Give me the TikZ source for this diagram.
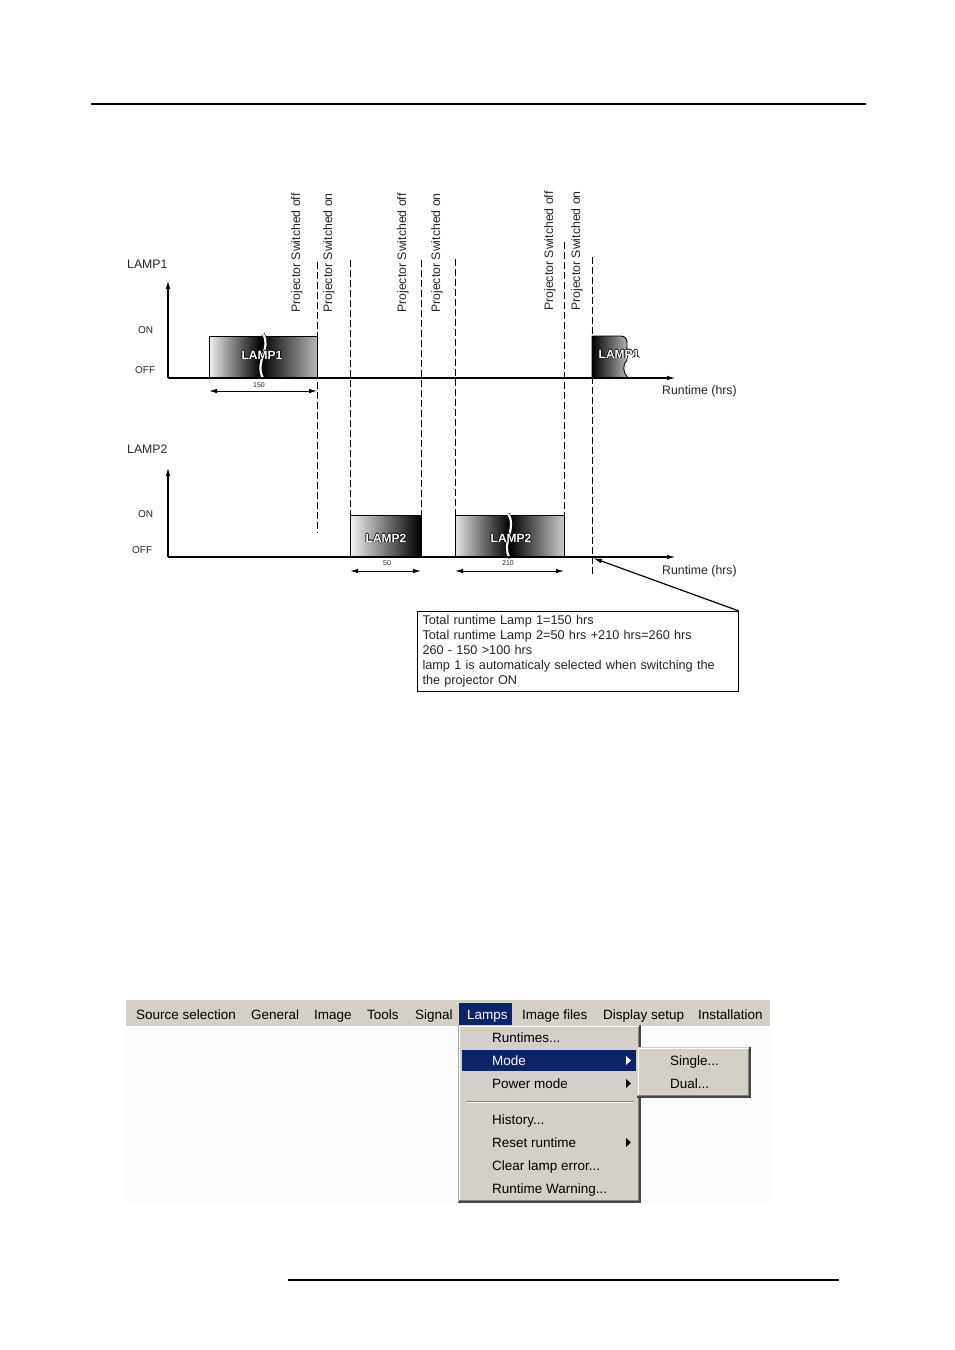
\documentclass[tikz,border=0pt]{standalone}
\usepackage{fontspec}
\setmainfont{Liberation Sans}
\usetikzlibrary{arrows.meta}
\definecolor{wingray}{HTML}{D4D0C8}
\definecolor{winnavy}{HTML}{0A246A}
\definecolor{txtgray}{HTML}{262626}
\newcommand\lampt[1]{\leavevmode\rlap{\kern-0.7pt\textcolor{black}{#1}}\rlap{\kern0.7pt\textcolor{black}{#1}}\rlap{\raisebox{0.7pt}{\textcolor{black}{#1}}}\rlap{\raisebox{-0.7pt}{\textcolor{black}{#1}}}\textcolor{white}{#1}}
\begin{document}
\begin{tikzpicture}[x=1pt,y=-1pt,
  lbl/.style={font=\fontsize{12.3}{14}\selectfont, text=txtgray, inner sep=0pt},
  small/.style={font=\fontsize{10}{12}\selectfont, text=txtgray, inner sep=0pt},
  tiny/.style={font=\fontsize{7}{8}\selectfont, text=txtgray, inner sep=0pt},
  rotlbl/.style={lbl, rotate=90, anchor=west},
  vdash/.style={dash pattern=on 7pt off 3pt, line width=0.9pt},
  axis/.style={line width=1.4pt, -{Latex[length=9pt,width=4.5pt]}},
  dim/.style={line width=1pt, {Latex[length=8pt,width=4.5pt]}-{Latex[length=8pt,width=4.5pt]}},
  lampbox/.style={draw, line width=0.9pt},
  lamptxt/.style={font=\fontsize{12}{14}\selectfont\bfseries, inner sep=0pt},
  wave/.style={white, line width=2.2pt},
  menu/.style={font=\fontsize{13.5}{16}\selectfont, anchor=base west, inner sep=0pt},
  tri/.style={fill=black}
]
\useasboundingbox (0,0) rectangle (954,1350);
\fill[white] (0,0) rectangle (954,1350);

% page rules
\draw[line width=2pt] (91,104) -- (866,104);
\draw[line width=2pt] (288,1280) -- (839,1280);

% ---------------- LAMP1 chart ----------------
\coordinate (o1) at (168,378);
\coordinate (t1) at (168,280);
\coordinate (e1) at (676,378);
\node[lbl, anchor=west] (l1) at (127,264) {LAMP1};
\node[small, anchor=west] (on1) at (138,330) {ON};
\node[small, anchor=west] (off1) at (135,370) {OFF};

% lamp box 1 (LAMP1): light - dark - grey
\foreach \i in {0,...,107} {
  \pgfmathsetmacro\t{\i/108}
  \pgfmathsetmacro\p{\t<0.48 ? 6+94*\t/0.48 : 100-72*(\t-0.48)/0.52}
  \fill[black!\p] (209+\i,336) rectangle (210.3+\i,378);
}
\draw[lampbox] (209,378) -- (209,336) -- (317,336) -- (317,378);
\draw[black, line width=3.4pt] (263,334) .. controls (272,348) and (254,362) .. (263,378);
\draw[wave] (263,334) .. controls (272,348) and (254,362) .. (263,378);
\node[lamptxt] (lamp1a) at (262,355) {\lampt{LAMP1}};

% lamp box 4 (LAMP1 again): dark - light
\begin{scope}
\clip (592,378) -- (592,336) -- (621,336) .. controls (625,336) and (627,339) .. (627,343) -- (627,360) .. controls (622,365) and (623,373) .. (628,378) -- cycle;
\foreach \i in {0,...,36} {
  \pgfmathsetmacro\p{100-72*\i/36}
  \fill[black!\p] (592+\i,336) rectangle (593.3+\i,378);
}
\end{scope}
\draw[lampbox] (592,378) -- (592,336) -- (621,336) .. controls (625,336) and (627,339) .. (627,343) -- (627,360) .. controls (622,365) and (623,373) .. (628,378);
\node[lamptxt] (lamp1b) at (619,354) {\lampt{LAMP1}};

\draw[axis] (o1) -- (t1);
\draw[axis] (o1) -- (e1);
\node[lbl, anchor=west] (rt1) at (662,391) {Runtime (hrs)};

\coordinate (m1a) at (209,391);
\coordinate (m1b) at (317,391);
\draw[dim] (m1a) -- (m1b);
\node[tiny] (n150) at (259,385) {150};

% ---------------- LAMP2 chart ----------------
\coordinate (o2) at (168,557);
\coordinate (t2) at (168,467);
\coordinate (e2) at (676,557);
\node[lbl, anchor=west] (l2) at (127,449) {LAMP2};
\node[small, anchor=west] (on2) at (138,514) {ON};
\node[small, anchor=west] (off2) at (132,550) {OFF};

% lamp box 2 (LAMP2): light - dark
\foreach \i in {0,...,70} {
  \pgfmathsetmacro\p{5+95*\i/70}
  \fill[black!\p] (350+\i,515) rectangle (351.3+\i,557);
}
\draw[lampbox] (350,557) -- (350,515) -- (421,515) -- (421,557);
\node[lamptxt] (lamp2a) at (386,538) {\lampt{LAMP2}};

% lamp box 3 (LAMP2): light - dark - light
\foreach \i in {0,...,108} {
  \pgfmathsetmacro\t{\i/109}
  \pgfmathsetmacro\p{\t<0.5 ? 10+90*\t/0.5 : 100-80*(\t-0.5)/0.5}
  \fill[black!\p] (455+\i,515) rectangle (456.3+\i,557);
}
\draw[lampbox] (455,557) -- (455,515) -- (564,515) -- (564,557);
\draw[black, line width=3.4pt] (508,514) .. controls (518,528) and (500,544) .. (510,558);
\draw[wave] (508,514) .. controls (518,528) and (500,544) .. (510,558);
\node[lamptxt] (lamp2b) at (511,538) {\lampt{LAMP2}};

\draw[axis] (o2) -- (t2);
\draw[axis] (o2) -- (e2);
\node[lbl, anchor=west] (rt2) at (662,571) {Runtime (hrs)};

\coordinate (m2a) at (350,571);
\coordinate (m2b) at (421,571);
\draw[dim] (m2a) -- (m2b);
\node[tiny] (n50) at (387,563) {50};
\coordinate (m3a) at (455,571);
\coordinate (m3b) at (564,571);
\draw[dim] (m3a) -- (m3b);
\node[tiny] (n210) at (508,563) {210};

% ---------------- event lines ----------------
\coordinate (d1a) at (317,262); \coordinate (d1b) at (317,533);
\coordinate (d2a) at (350,260); \coordinate (d2b) at (350,515);
\coordinate (d3a) at (421,260); \coordinate (d3b) at (421,515);
\coordinate (d4a) at (455,259); \coordinate (d4b) at (455,515);
\coordinate (d5a) at (564,242); \coordinate (d5b) at (564,515);
\coordinate (d6a) at (592,257); \coordinate (d6b) at (592,575);
\foreach \i in {1,...,6} { \draw[vdash] (d\i a) -- (d\i b); }

\node[rotlbl] (p1) at (297,313) {Projector Switched off};
\node[rotlbl] (p2) at (329,313) {Projector Switched on};
\node[rotlbl] (p3) at (403,313) {Projector Switched off};
\node[rotlbl] (p4) at (437,313) {Projector Switched on};
\node[rotlbl] (p5) at (550,311) {Projector Switched off};
\node[rotlbl] (p6) at (577,311) {Projector Switched on};

% ---------------- note ----------------
\node[draw, line width=1pt, anchor=north west, text width=311pt, minimum height=80pt,
      inner xsep=5pt, inner ysep=3pt, align=left, font=\fontsize{12.7}{15}\selectfont, text=txtgray] (tb) at (417,611)
 {Total runtime Lamp 1=150 hrs\\
  Total runtime Lamp 2=50 hrs +210 hrs=260 hrs\\
  260 - 150 >100 hrs\\
  lamp 1 is automaticaly selected when switching the\\
  the projector ON};
\coordinate (tip) at (593,558);
\draw[line width=1.2pt, -{Latex[length=9pt,width=4.5pt]}] (tb.north east) -- (tip);

% ---------------- menu screenshot ----------------
\fill[gray!2] (126,1026) rectangle (770,1202);
\fill[wingray] (126,1000) rectangle (770,1026);
\fill[winnavy] (459,1003) rectangle (512,1025);
\node[menu] (mb1) at (136,1019) {Source selection};
\node[menu] (mb2) at (251,1019) {General};
\node[menu] (mb3) at (314,1019) {Image};
\node[menu] (mb4) at (367,1019) {Tools};
\node[menu] (mb5) at (415,1019) {Signal};
\node[menu, text=white] (mb6) at (467,1019) {Lamps};
\node[menu] (mb7) at (522,1019) {Image files};
\node[menu] (mb8) at (603,1019) {Display setup};
\node[menu] (mb9) at (698,1019) {Installation};

% dropdown
\fill[wingray] (458,1025) rectangle (640,1202);
\draw[white, line width=1pt] (459.5,1201) -- (459.5,1026.5) -- (639,1026.5);
\draw[gray!55!black, line width=1.2pt] (458,1202) -- (640,1202) -- (640,1025);
\draw[gray, line width=1pt] (459,1200.5) -- (638.5,1200.5) -- (638.5,1027);
\draw[gray!70, line width=0.8pt] (458,1202) -- (458,1025);
\fill[winnavy] (462,1050) rectangle (636,1071);
\draw[gray, line width=1pt] (466,1101) -- (634,1101);
\draw[white, line width=1pt] (466,1102) -- (634,1102);
\node[menu] (dm1) at (492,1042) {Runtimes...};
\node[menu, text=white] (dm2) at (492,1065) {Mode};
\node[menu] (dm3) at (492,1088) {Power mode};
\node[menu] (dm4) at (492,1124) {History...};
\node[menu] (dm5) at (492,1147) {Reset runtime};
\node[menu] (dm6) at (492,1170) {Clear lamp error...};
\node[menu] (dm7) at (492,1193) {Runtime Warning...};
\fill[white] (626,1056) -- (631,1060.5) -- (626,1065) -- cycle;
\fill[tri] (626,1079) -- (631,1083.5) -- (626,1088) -- cycle;
\fill[tri] (626,1138) -- (631,1142.5) -- (626,1147) -- cycle;

% submenu
\fill[wingray] (637,1047) rectangle (750,1097);
\draw[white, line width=1pt] (638.5,1096) -- (638.5,1048.5) -- (749,1048.5);
\draw[gray!55!black, line width=1.2pt] (637,1097) -- (750,1097) -- (750,1047);
\draw[gray, line width=1pt] (638,1095.5) -- (748.5,1095.5) -- (748.5,1049);
\node[menu] (sm1) at (670,1065) {Single...};
\node[menu] (sm2) at (670,1088) {Dual...};
\end{tikzpicture}
\end{document}
